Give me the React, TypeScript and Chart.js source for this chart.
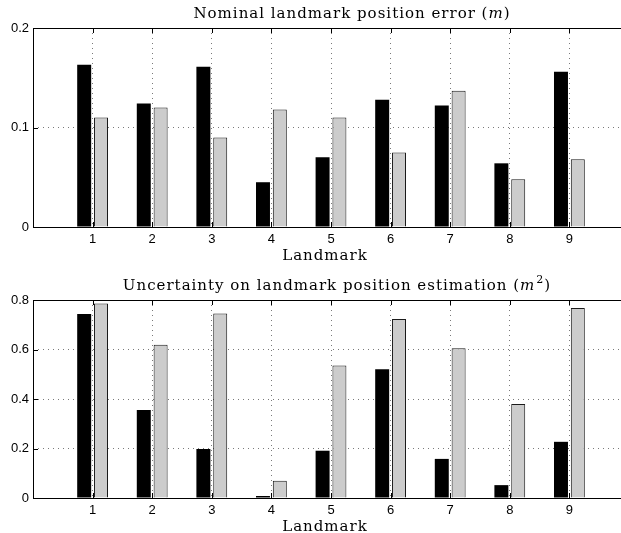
import React, { useEffect, useRef } from 'react';
import { Chart, registerables } from 'chart.js';

Chart.register(...registerables);

// ---------- data ----------
const categories = ['1', '2', '3', '4', '5', '6', '7', '8', '9'];
const nominalBlack = [0.163, 0.124, 0.161, 0.045, 0.070, 0.128, 0.122, 0.064, 0.156];
const nominalGrey = [0.110, 0.120, 0.090, 0.118, 0.110, 0.075, 0.137, 0.048, 0.068];
const uncertaintyBlack = [0.743, 0.356, 0.198, 0.008, 0.191, 0.520, 0.158, 0.052, 0.227];
const uncertaintyGrey = [0.786, 0.619, 0.745, 0.070, 0.535, 0.723, 0.605, 0.380, 0.768];
const nominalTicks = [0, 0.1, 0.2];
const uncertaintyTicks = [0, 0.2, 0.4, 0.6, 0.8];
const xAxisLabel = 'Landmark';

type Piece = { text: string; italic?: boolean; sup?: boolean };

const nominalTitle: Piece[] = [
  { text: 'Nominal landmark position error (' },
  { text: 'm', italic: true },
  { text: ')' },
];
const uncertaintyTitle: Piece[] = [
  { text: 'Uncertainty on landmark position estimation (' },
  { text: 'm', italic: true },
  { text: '2', sup: true },
  { text: ')' },
];

const SERIF = '"DejaVu Serif", serif';
const SANS = '"Liberation Sans", Arial, sans-serif';

interface PanelCfg {
  black: number[];
  grey: number[];
  ticks: number[];
  title: Piece[];
  canvasH: number;
  padTop: number;
  titleCenter: number;
  titleBaseline: number;
  xLabelCenter: number;
  xLabelBaseline: number;
}

function decorPlugin(cfg: PanelCfg) {
  return {
    id: 'decor',
    afterDraw(chart: any) {
      const { ctx, chartArea } = chart;
      const { left, top, bottom, right } = chartArea;
      ctx.save();
      ctx.strokeStyle = '#000';
      ctx.lineWidth = 1;
      const xs = chart.scales.x;
      ctx.beginPath();
      for (let i = 1; i <= categories.length; i++) {
        const px = Math.round(xs.getPixelForValue(i)) + 0.5;
        ctx.moveTo(px, top);
        ctx.lineTo(px, top + 5);
        ctx.moveTo(px, bottom);
        ctx.lineTo(px, bottom - 5);
      }
      const ys = chart.scales.y;
      cfg.ticks.forEach((v) => {
        const py = Math.round(ys.getPixelForValue(v)) + 0.5;
        ctx.moveTo(left, py);
        ctx.lineTo(left + 5, py);
      });
      ctx.stroke();
      // frame
      ctx.strokeRect(Math.round(left) + 0.5, Math.round(top) + 0.5, right - left, Math.round(bottom) - Math.round(top));

      // title
      ctx.fillStyle = '#000';
      ctx.textBaseline = 'alphabetic';
      ctx.textAlign = 'left';
      (ctx as any).letterSpacing = '1px';
      const fontFor = (p: Piece) =>
        p.sup ? `11px ${SERIF}` : p.italic ? `italic 15px ${SERIF}` : `15px ${SERIF}`;
      let total = 0;
      const widths = cfg.title.map((p) => {
        ctx.font = fontFor(p);
        const w = ctx.measureText(p.text).width + (p.sup ? 1 : 0);
        total += w;
        return w;
      });
      let x = cfg.titleCenter - total / 2;
      cfg.title.forEach((p, i) => {
        ctx.font = fontFor(p);
        ctx.fillText(p.text, x + (p.sup ? 1 : 0), cfg.titleBaseline - (p.sup ? 7 : 0));
        x += widths[i];
      });

      // x axis label
      ctx.font = `15px ${SERIF}`;
      ctx.textAlign = 'center';
      ctx.fillText(xAxisLabel, cfg.xLabelCenter, cfg.xLabelBaseline);
      ctx.restore();
    },
  };
}

function Panel({ cfg }: { cfg: PanelCfg }) {
  const ref = useRef<HTMLCanvasElement>(null);
  useEffect(() => {
    if (!ref.current) return;
    const labels = ['', ...categories, ''];
    const pad = (a: number[]) => [null, ...a, null];
    const maxV = cfg.ticks[cfg.ticks.length - 1];
    const chart = new Chart(ref.current, {
      type: 'bar',
      data: {
        labels,
        datasets: [
          {
            data: pad(cfg.black) as any,
            backgroundColor: '#000000',
            borderColor: '#000000',
            borderWidth: 0,
            categoryPercentage: 0.565,
            barPercentage: 0.83,
          },
          {
            data: pad(cfg.grey) as any,
            backgroundColor: '#cccccc',
            borderColor: '#1a1a1a',
            borderWidth: 1,
            categoryPercentage: 0.565,
            barPercentage: 0.83,
          },
        ],
      },
      options: {
        animation: false,
        responsive: false,
        devicePixelRatio: 1,
        layout: { padding: { top: cfg.padTop, right: 11, left: 0, bottom: 0 } },
        plugins: { legend: { display: false }, tooltip: { enabled: false }, title: { display: false } },
        scales: {
          x: {
            type: 'category',
            offset: false,
            grid: {
              offset: false,
              drawTicks: false,
              color: (c: any) => (c.index === 0 || c.index === labels.length - 1 ? 'rgba(0,0,0,0)' : '#7a7a7a'),
              lineWidth: 1,
            },
            border: { display: false, dash: [1, 4] },
            ticks: {
              autoSkip: false,
              maxRotation: 0,
              padding: 5,
              color: '#000',
              font: { family: SANS, size: 13 },
              callback: (_v: any, i: number) => labels[i],
            },
            afterFit: (s: any) => {
              s.height = 35;
            },
          },
          y: {
            min: 0,
            max: maxV,
            afterBuildTicks: (s: any) => {
              s.ticks = cfg.ticks.map((v) => ({ value: v }));
            },
            grid: {
              drawTicks: false,
              color: (c: any) =>
                c.tick && (c.tick.value === 0 || c.tick.value === maxV) ? 'rgba(0,0,0,0)' : '#7a7a7a',
              lineWidth: 1,
            },
            border: { display: false, dash: [1, 4] },
            ticks: {
              padding: 4,
              color: '#000',
              font: { family: SANS, size: 13 },
              callback: (v: any) => String(Math.round(Number(v) * 10) / 10),
            },
            afterFit: (s: any) => {
              s.width = 33;
            },
          },
        },
      },
      plugins: [decorPlugin(cfg)],
    });
    return () => chart.destroy();
  }, [cfg]);
  return <canvas ref={ref} width={640} height={cfg.canvasH} style={{ display: 'block' }} />;
}

const topCfg: PanelCfg = {
  black: nominalBlack,
  grey: nominalGrey,
  ticks: nominalTicks,
  title: nominalTitle,
  canvasH: 262,
  padTop: 28,
  titleCenter: 352,
  titleBaseline: 18,
  xLabelCenter: 325,
  xLabelBaseline: 260,
};

const bottomCfg: PanelCfg = {
  black: uncertaintyBlack,
  grey: uncertaintyGrey,
  ticks: uncertaintyTicks,
  title: uncertaintyTitle,
  canvasH: 271,
  padTop: 38,
  titleCenter: 337,
  titleBaseline: 28,
  xLabelCenter: 325,
  xLabelBaseline: 269,
};

export default function App() {
  useEffect(() => {
    document.body.style.margin = '0';
    document.body.style.background = '#fff';
  }, []);
  return (
    <div style={{ position: 'relative', width: 621, height: 533, overflow: 'hidden', background: '#fff' }}>
      <div style={{ position: 'absolute', left: 0, top: 0 }}>
        <Panel cfg={topCfg} />
      </div>
      <div style={{ position: 'absolute', left: 0, top: 262 }}>
        <Panel cfg={bottomCfg} />
      </div>
    </div>
  );
}
